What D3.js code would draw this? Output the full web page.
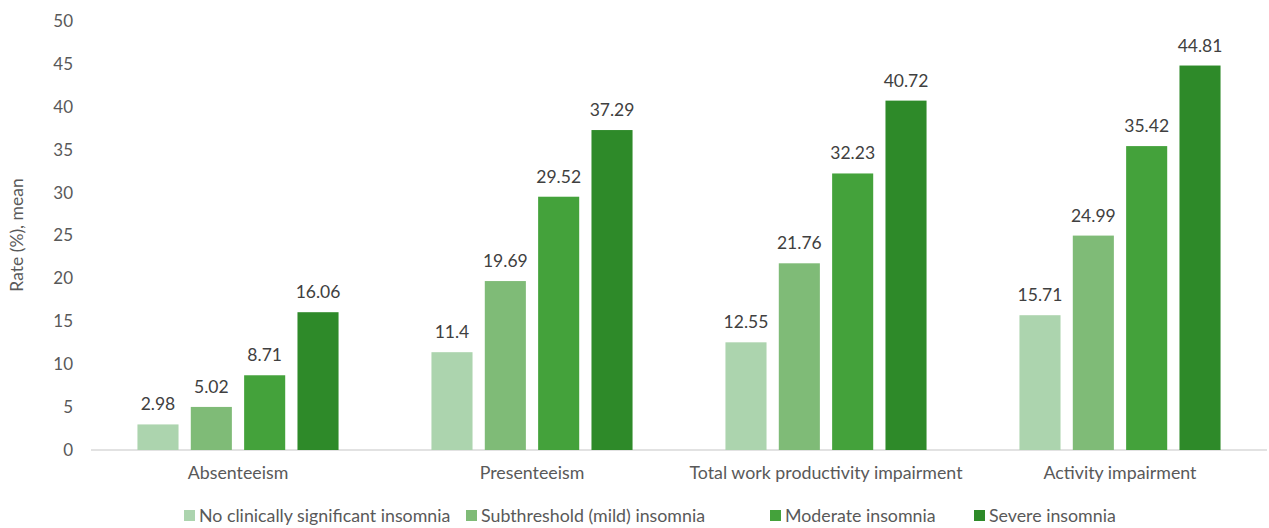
<!DOCTYPE html>
<html><head><meta charset="utf-8">
<script src="https://cdn.jsdelivr.net/npm/d3@7"></script>
<style>body{margin:0;background:#fff;}svg{display:block;}</style>
</head><body>
<svg id="chart" width="1269" height="528"></svg>
<script>
const categories = ["Absenteeism","Presenteeism","Total work productivity impairment","Activity impairment"];
const seriesNames = ["No clinically significant insomnia","Subthreshold (mild) insomnia","Moderate insomnia","Severe insomnia"];
const noneValues = [2.98, 11.4, 12.55, 15.71];
const mildValues = [5.02, 19.69, 21.76, 24.99];
const moderateValues = [8.71, 29.52, 32.23, 35.42];
const severeValues = [16.06, 37.29, 40.72, 44.81];
const yTicks = [0,5,10,15,20,25,30,35,40,45,50];
const colors = ["#acd4ae","#7fbb77","#44a23b","#2e8a29"];

const series = [noneValues, mildValues, moderateValues, severeValues];
const svg = d3.select("#chart");
const font = "Lato, 'Open Sans', sans-serif";
const mLeft = 91, mRight = 1267, mTop = 21, mBottom = 450;

const x = d3.scaleBand().domain(categories).range([mLeft, mRight]).paddingInner(0.316).paddingOuter(0.158);
const xi = d3.scaleBand().domain(d3.range(4)).range([0, x.bandwidth()]).paddingInner(0.23);
const y = d3.scaleLinear().domain([0,50]).range([mBottom, mTop]);

// y axis ticks
const yAxis = d3.axisLeft(y).tickValues(yTicks).tickSize(0).tickPadding(0);
const gy = svg.append("g").attr("transform", `translate(73,0)`).call(yAxis);
gy.select(".domain").remove();
gy.selectAll("text").attr("font-family", font).attr("font-size", 17).attr("fill", "#595959");

// baseline
svg.append("line").attr("x1", mLeft).attr("x2", mRight).attr("y1", y(0)).attr("y2", y(0))
  .attr("stroke", "#d9d9d9").attr("stroke-width", 1.5);

// bars
categories.forEach((c, ci) => {
  series.forEach((s, si) => {
    const bx = x(c) + xi(si);
    svg.append("rect").attr("x", bx).attr("y", y(s[ci])).attr("width", xi.bandwidth())
      .attr("height", y(0) - y(s[ci])).attr("fill", colors[si]);
    svg.append("text").attr("x", bx + xi.bandwidth()/2).attr("y", y(s[ci]) - 14)
      .attr("text-anchor", "middle").attr("font-family", font).attr("font-size", 17.5)
      .attr("fill", "#404040").text(s[ci]);
  });
});

// x axis labels
const xAxis = d3.axisBottom(x).tickSize(0).tickPadding(0);
const gx = svg.append("g").attr("transform", `translate(0,${mBottom + 24})`).call(xAxis);
gx.select(".domain").remove();
gx.selectAll("text").attr("font-family", font).attr("font-size", 17.8).attr("fill", "#595959").attr("dy", "0.3em");

// y axis title
svg.append("text").attr("transform", "translate(23,235) rotate(-90)").attr("text-anchor", "middle")
  .attr("font-family", font).attr("font-size", 17.5).attr("fill", "#595959").text("Rate (%), mean");

// legend
const legendX = [184, 466, 770, 974];
seriesNames.forEach((n, i) => {
  const g = svg.append("g").attr("transform", `translate(${legendX[i]},516)`);
  g.append("rect").attr("x", 0).attr("y", -6).attr("width", 11).attr("height", 11).attr("fill", colors[i]);
  g.append("text").attr("x", 15).attr("y", 0).attr("dy", "0.35em").attr("font-family", font)
    .attr("font-size", 17.8).attr("fill", "#595959").text(n);
});
</script>
</body></html>
